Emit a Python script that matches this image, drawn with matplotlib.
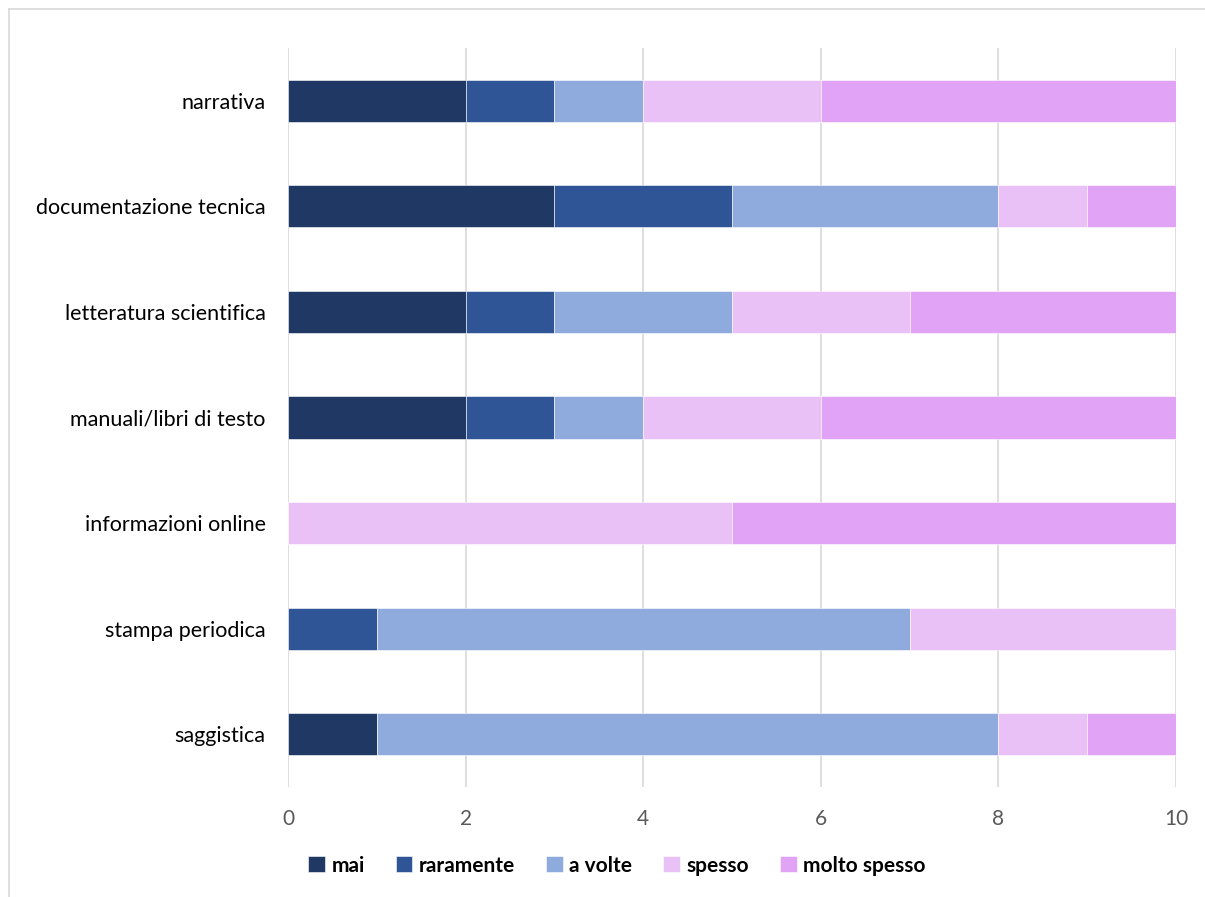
import matplotlib.pyplot as plt
from matplotlib.lines import Line2D

plt.rcParams['font.family'] = ['Lato', 'DejaVu Sans']

categories = ['narrativa', 'documentazione tecnica', 'letteratura scientifica',
              'manuali/libri di testo', 'informazioni online', 'stampa periodica',
              'saggistica']
series = ['mai', 'raramente', 'a volte', 'spesso', 'molto spesso']
values = {
    'mai':          [2, 3, 2, 2, 0, 0, 1],
    'raramente':    [1, 2, 1, 1, 0, 1, 0],
    'a volte':      [1, 3, 2, 1, 0, 6, 7],
    'spesso':       [2, 1, 2, 2, 5, 3, 1],
    'molto spesso': [4, 1, 3, 4, 5, 0, 1],
}
colors = ['#203864', '#2F5597', '#8FAADC', '#EAC1F7', '#E0A3F5']

fig = plt.figure(figsize=(12.05, 8.97), dpi=100)
ax = fig.add_axes([0.239, 0.1226, 0.737, 0.824])

ypos = list(range(len(categories)))
left = [0] * len(categories)
for name, col in zip(series, colors):
    vals = values[name]
    ax.barh(ypos, vals, left=left, height=0.4, color=col, label=name,
            edgecolor='white', linewidth=0.4, zorder=3)
    left = [a + b for a, b in zip(left, vals)]

ax.set_ylim(len(categories) - 0.5, -0.5)
ax.set_xlim(0, 10)
ax.set_xticks([0, 2, 4, 6, 8, 10])
ax.set_yticks(ypos)
ax.set_yticklabels(categories, fontsize=15.5, color='#000000')
ax.tick_params(axis='x', labelsize=15, labelcolor='#595959', length=0, pad=16)
ax.tick_params(axis='y', length=0, pad=16)
ax.grid(axis='x', color='#D9D9D9', linewidth=1.2, zorder=0)
for s in ax.spines.values():
    s.set_visible(False)

leg = fig.legend(loc='center', bbox_to_anchor=(0.512, 0.035), ncol=5, frameon=False,
                 handlelength=0.8, handleheight=0.8, handletextpad=0.3,
                 columnspacing=1.5, prop={'weight': 'bold', 'size': 15})

fig.add_artist(Line2D([9 / 1205, 9 / 1205], [0, 1 - 9 / 897], transform=fig.transFigure,
                      color='#D9D9D9', linewidth=1.2))
fig.add_artist(Line2D([9 / 1205, 1], [1 - 9 / 897, 1 - 9 / 897], transform=fig.transFigure,
                      color='#D9D9D9', linewidth=1.2))

fig.savefig('out.png', dpi=100)
